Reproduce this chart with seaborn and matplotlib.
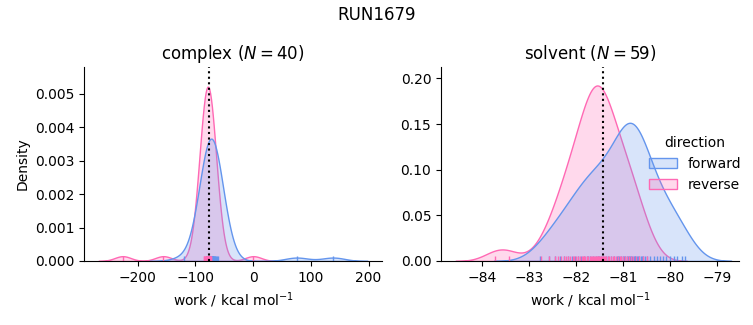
import pandas as pd
import matplotlib.pyplot as plt
import seaborn as sns

# ========== Data (work values, kcal/mol) ==========
complex_forward = [-120, 75.6, 139,
                   -82, -80, -79, -78, -77.5, -77, -76.5, -76, -75.5, -75,
                   -75, -74.5, -74.5, -74, -74, -73.5, -73.5, -73, -73, -72.5,
                   -72.5, -72, -72, -71.5, -71, -70.5, -70, -69.5, -69, -68.5,
                   -68, -67, -66, -65, -64, -63, -61]
complex_reverse = [-225.6, -155.3, 0.5,
                   -85, -84, -83, -82, -81.5, -81, -80.5, -80, -80, -79.5,
                   -79.5, -79, -79, -79, -78.5, -78.5, -78.5, -78.5, -78, -78,
                   -78, -78, -77.5, -77.5, -77.5, -77, -77, -76.5, -76.5, -76,
                   -76, -75.5, -75, -74.5, -74, -73.5, -73]
solvent_forward = [-82.76, -82.58, -82.45, -82.34, -82.25, -82.16, -82.09, -82.01, -81.95,
                   -81.89, -81.82, -81.77, -81.75, -81.69, -81.64, -81.58, -81.53, -81.50,
                   -81.47, -81.42, -81.37, -81.31,
                   -81.25, -81.19, -81.13, -81.10, -81.08, -81.03, -80.99, -80.97, -80.95,
                   -80.91, -80.90, -80.88, -80.84, -80.83, -80.81, -80.77, -80.75, -80.74,
                   -80.70, -80.68, -80.66, -80.62, -80.60, -80.57, -80.53, -80.48, -80.43,
                   -80.34, -80.28, -80.22, -80.15, -80.08, -80.00, -79.92, -79.84, -79.74, -79.68]
solvent_reverse = [-83.72, -83.43,
                   -82.74, -82.57, -82.45, -82.38, -82.32, -82.26,
                   -82.22, -82.17, -82.12, -82.07, -82.04,
                   -82.00, -81.96, -81.92, -81.88, -81.85, -81.83, -81.80, -81.77, -81.74,
                   -81.71, -81.68, -81.66, -81.64, -81.62, -81.60, -81.58, -81.56, -81.54,
                   -81.52, -81.50, -81.48, -81.46, -81.44, -81.42, -81.40, -81.38, -81.35, -81.32,
                   -81.29, -81.26, -81.22, -81.18, -81.14, -81.10, -81.07, -81.03,
                   -80.99, -80.95, -80.91, -80.88,
                   -80.83, -80.78, -80.72,
                   -80.65, -80.57, -80.48]

phases = ["complex", "solvent"]
n_pairs = {"complex": 40, "solvent": 59}
free_energy = {"complex": -76.2, "solvent": -81.43}

# ========== Build long-form table ==========
rows = []
for phase, fwd, rev in [("complex", complex_forward, complex_reverse),
                        ("solvent", solvent_forward, solvent_reverse)]:
    rows += [(phase, "forward", w) for w in fwd]
    rows += [(phase, "reverse", w) for w in rev]
df = pd.DataFrame(rows, columns=["phase", "direction", "work"])

# ========== Plot ==========
g = sns.displot(data=df, x="work", hue="direction", col="phase", kind="kde",
                fill=True, rug=True, col_order=phases,
                palette={"forward": "cornflowerblue", "reverse": "hotpink"},
                facet_kws=dict(sharex=False, sharey=False))

g.figure.set_size_inches(7.53, 3.25)
g.figure.subplots_adjust(left=0.1116, right=0.9814, bottom=0.197, top=0.794, wspace=0.198)

xlims = {"complex": (-292.6, 223.4), "solvent": (-84.87, -78.53)}
ylims = {"complex": 0.0058, "solvent": 0.2125}
for phase, ax in g.axes_dict.items():
    ax.axvline(free_energy[phase], color="k", ls=":", lw=1.5)
    ax.set_title(f"{phase} ($N={n_pairs[phase]}$)", fontsize=12)
    ax.set_xlabel(r"work / kcal mol$^{-1}$")
    ax.set_xlim(*xlims[phase])
    ax.set_ylim(0, ylims[phase])

g.figure.suptitle("RUN1679", fontsize=12)
sns.move_legend(g, "upper left", bbox_to_anchor=(0.845, 0.621), frameon=False)

g.figure.savefig("out.png", dpi=100)
